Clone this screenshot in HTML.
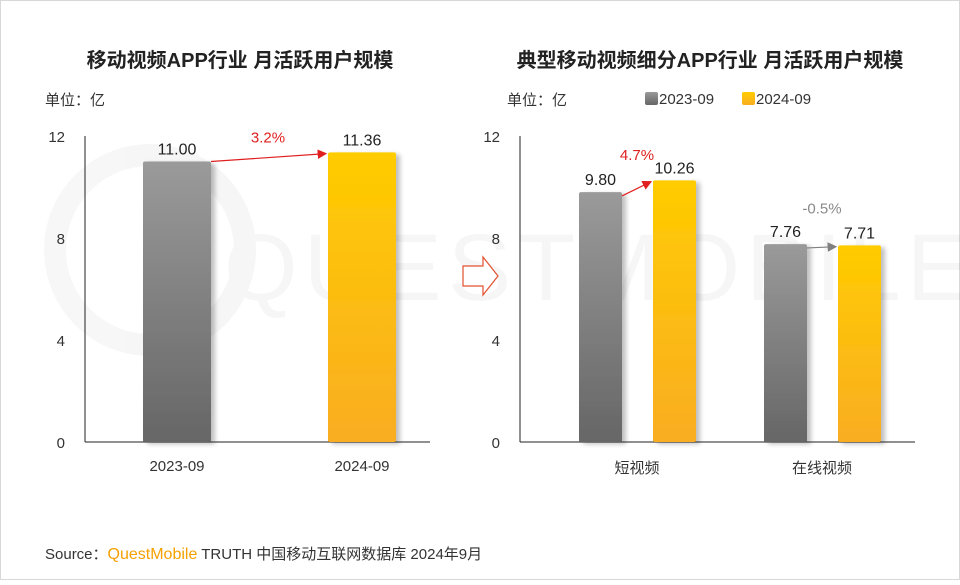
<!DOCTYPE html>
<html><head><meta charset="utf-8"><style>
body{margin:0;background:#fff}
svg text{font-family:"Liberation Sans","Noto Sans CJK SC",sans-serif}
</style></head><body>
<svg width="960" height="580" xmlns="http://www.w3.org/2000/svg">
<defs>
<linearGradient id="g" x1="0" y1="0" x2="0" y2="1"><stop offset="0" stop-color="#9a9a9a"/><stop offset="1" stop-color="#666"/></linearGradient>
<linearGradient id="y" x1="0" y1="0" x2="0" y2="1"><stop offset="0" stop-color="#ffcc00"/><stop offset="1" stop-color="#f9ad22"/></linearGradient>
<filter id="sh" x="-20%" y="-5%" width="150%" height="115%"><feDropShadow dx="4" dy="2" stdDeviation="2.5" flood-color="#000" flood-opacity="0.25"/></filter>
<marker id="ar" markerWidth="8" markerHeight="8" refX="7" refY="4" orient="auto"><path d="M0,0L8,4L0,8z" fill="#e02020"/></marker>
<marker id="ag" markerWidth="8" markerHeight="8" refX="7" refY="4" orient="auto"><path d="M0,0L8,4L0,8z" fill="#808080"/></marker>
</defs>
<rect x="0.5" y="0.5" width="959" height="579" fill="#fff" stroke="#d8d8d8"/>
<g opacity="0.03">
<circle cx="150" cy="250" r="95" fill="none" stroke="#000" stroke-width="22"/>
<text x="600" y="300" font-size="95" text-anchor="middle" fill="#000" letter-spacing="6">QUESTMOBILE</text>
</g>
<text x="240" y="67" font-size="20" font-weight="bold" text-anchor="middle" fill="#222">移动视频APP行业 月活跃用户规模</text>
<text x="710" y="67" font-size="20" font-weight="bold" text-anchor="middle" fill="#222">典型移动视频细分APP行业 月活跃用户规模</text>
<text x="45" y="105" font-size="15" fill="#333">单位：亿</text>
<text x="507" y="105" font-size="15" fill="#333">单位：亿</text>
<g>
<rect x="645" y="92" width="13" height="13" rx="2" fill="url(#g)"/>
<text x="659" y="104" font-size="15" fill="#333">2023-09</text>
<rect x="742" y="92" width="13" height="13" rx="2" fill="url(#y)"/>
<text x="756" y="104" font-size="15" fill="#333">2024-09</text>
</g>
<path d="M463,266 h20 v-9 l15,19 l-15,19 v-9 h-20z" fill="#fff" stroke="#e05030" stroke-width="1.2"/>
<g id="left"></g>
<g id="right"></g>
<text x="45" y="559" font-size="15" fill="#333">Source：<tspan fill="#f5a000" font-size="16">QuestMobile</tspan> TRUTH 中国移动互联网数据库 2024年9月</text>
</svg>
<script>
const ticks=[0,4,8,12];
const leftCats=["2023-09","2024-09"];
const leftVals=[11.00,11.36];
const leftGrowth="3.2%";
const rightCats=["短视频","在线视频"];
const right2023=[9.80,7.76];
const right2024=[10.26,7.71];
const rightGrowth=["4.7%","-0.5%"];
const NS="http://www.w3.org/2000/svg";
const y0=442,ppu=25.5;
const yS=v=>y0-v*ppu;
function mk(p,t,a){const e=document.createElementNS(NS,t);for(const k in a)e.setAttribute(k,a[k]);p.appendChild(e);return e;}
function axes(g,x0,x1){
 const l=mk(g,"line",{x1:x0,y1:136,x2:x0,y2:y0,stroke:"#222"});
 
 
 const b=mk(g,"line",{x1:x0,y1:y0,x2:x1,y2:y0,stroke:"#222"});
 
 
 ticks.forEach(t=>{const e=mk(g,"text",{x:x0-20,y:yS(t)+6,"font-size":15,"text-anchor":"end",fill:"#333"});e.textContent=t;
 
 });
}
function bar(g,x,w,v,fill,nm){
 const r=mk(g,"rect",{x:x,y:yS(v),width:w,height:y0-yS(v),fill:fill,filter:"url(#sh)",rx:2});
 
 
 const t=mk(g,"text",{x:x+w/2,y:yS(v)-7,"font-size":16,"text-anchor":"middle",fill:"#222"});t.textContent=v.toFixed(2);
 
 
}
function arrow(g,x1,v1,x2,v2,col,mid,txt,ty){
 const a=mk(g,"line",{x1:x1,y1:yS(v1),x2:x2,y2:yS(v2),stroke:col,"stroke-width":1.2,"marker-end":col=="#e02020"?"url(#ar)":"url(#ag)"});
 
 
 const t=mk(g,"text",{x:mid,y:ty,"font-size":15,"text-anchor":"middle",fill:col=="#e02020"?"#e02020":"#8a8a8a"});t.textContent=txt;
 
 
}
const L=document.getElementById("left");
axes(L,85,430);
const lx=[143,328],bw=68;
leftVals.forEach((v,i)=>{bar(L,lx[i],bw,v,i?"url(#y)":"url(#g)","bar-"+leftCats[i]);
 const t=mk(L,"text",{x:lx[i]+bw/2,y:471,"font-size":15,"text-anchor":"middle",fill:"#333"});t.textContent=leftCats[i];
 
 });
arrow(L,lx[0]+bw,leftVals[0],lx[1]-2,leftVals[1]-0.05,"#e02020",268,leftGrowth,yS(leftVals[1])-10);
const R=document.getElementById("right");
axes(R,520,915);
const gx=[579,764],rw=43,off=74;
rightCats.forEach((c,i)=>{
 bar(R,gx[i],rw,right2023[i],"url(#g)","bar-2023-"+c);
 bar(R,gx[i]+off,rw,right2024[i],"url(#y)","bar-2024-"+c);
 const up=right2024[i]>=right2023[i];
 arrow(R,gx[i]+rw,right2023[i]-0.15,gx[i]+off-2,right2024[i]-0.05,up?"#e02020":"#808080",gx[i]+58,rightGrowth[i],Math.max(yS(right2023[i]),yS(right2024[i]))-32);
 const t=mk(R,"text",{x:gx[i]+58,y:473,"font-size":15,"text-anchor":"middle",fill:"#333"});t.textContent=c;
 
 
});
</script>
</body></html>
